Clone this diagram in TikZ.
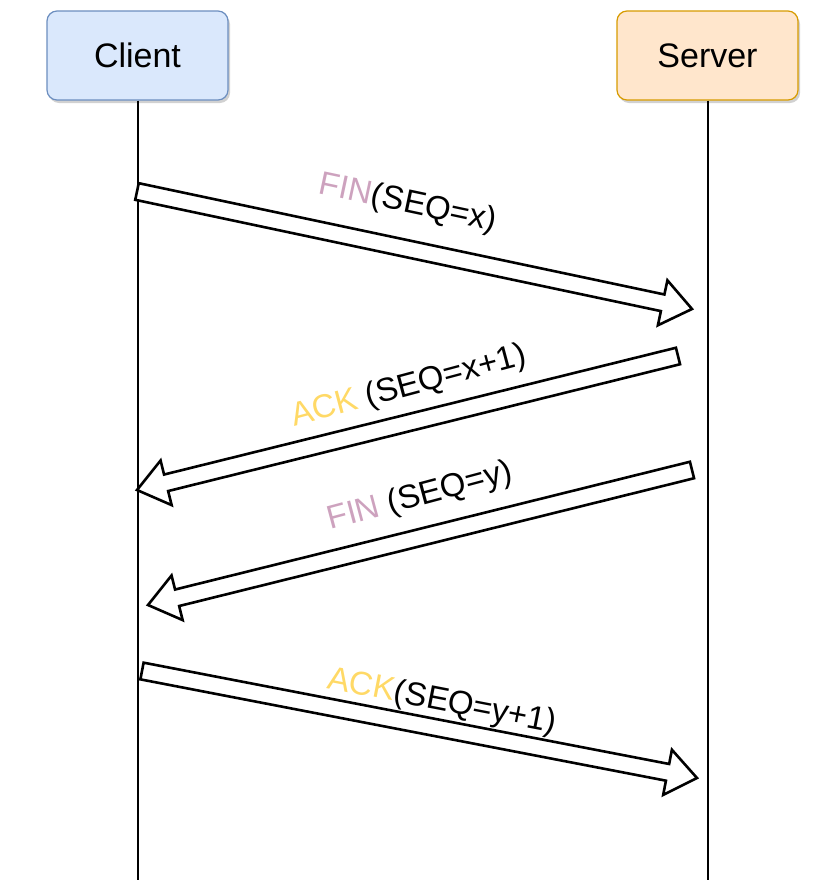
\documentclass[tikz,border=0pt]{standalone}
\usepackage{fontspec}
\setmainfont{Liberation Sans}
\usetikzlibrary{calc,shadows}
\definecolor{cfill}{HTML}{DAE8FC}
\definecolor{cline}{HTML}{6C8EBF}
\definecolor{sfill}{HTML}{FFE6CC}
\definecolor{sline}{HTML}{D79B00}
\definecolor{finc}{HTML}{CDA2BE}
\definecolor{ackc}{HTML}{FFD966}
\tikzset{
  actor/.style={rounded corners=10pt, minimum width=181pt, minimum height=89pt,
    line width=1.2pt, font=\fontsize{34}{40}\selectfont,
    drop shadow={shadow xshift=2pt, shadow yshift=-3pt, opacity=0.18, fill=black}},
  lifeline/.style={line width=2pt, draw=black},
  barrow/.style={draw=black, line width=2.6pt, fill=white, line join=miter},
  msg/.style={font=\fontsize{33}{39}\selectfont, inner sep=0pt}
}
\newcommand\blockarr[2]{%
  \coordinate (#1-q) at ($(#2)!30pt!(#1)$);
  \draw[barrow] ($(#1)!8.5pt!90:(#2)$) -- ($(#1-q)!8.5pt!90:(#2)$)
    -- ($(#1-q)!23pt!90:(#2)$) -- (#2) -- ($(#1-q)!23pt!-90:(#2)$)
    -- ($(#1-q)!8.5pt!-90:(#2)$) -- ($(#1)!8.5pt!-90:(#2)$) -- cycle;}
\begin{document}
\begin{tikzpicture}[x=1pt,y=-1pt]
\useasboundingbox (0,0) rectangle (831,892);
\node[actor, draw=cline, fill=cfill] (client) at (137.5,55.5) {Client};
\node[actor, draw=sline, fill=sfill] (server) at (707.5,55.5) {Server};
\coordinate (cend) at (137.5,880);
\coordinate (send) at (707.5,880);
\draw[lifeline] (client.south) -- (cend);
\draw[lifeline] (server.south) -- (send);
% message arrows
\coordinate (a1s) at (137,191.5);
\coordinate (a1e) at (692,309);
\coordinate (a2s) at (678,356);
\coordinate (a2e) at (137,490);
\coordinate (a3s) at (692,470);
\coordinate (a3e) at (148,605);
\coordinate (a4s) at (142,671);
\coordinate (a4e) at (697,778);
\blockarr{a1s}{a1e}
\blockarr{a2s}{a2e}
\blockarr{a3s}{a3e}
\blockarr{a4s}{a4e}
\node[msg, rotate=-12] (l1) at (408,204) {\textcolor{finc}{FIN}(SEQ=x)};
\node[msg, rotate=15] (l2) at (409,387) {\textcolor{ackc}{ACK} (SEQ=x+1)};
\node[msg, rotate=15] (l3) at (420,497) {\textcolor{finc}{FIN} (SEQ=y)};
\node[msg, rotate=-11] (l4) at (442,702) {\textcolor{ackc}{ACK}(SEQ=y+1)};
\end{tikzpicture}
\end{document}
